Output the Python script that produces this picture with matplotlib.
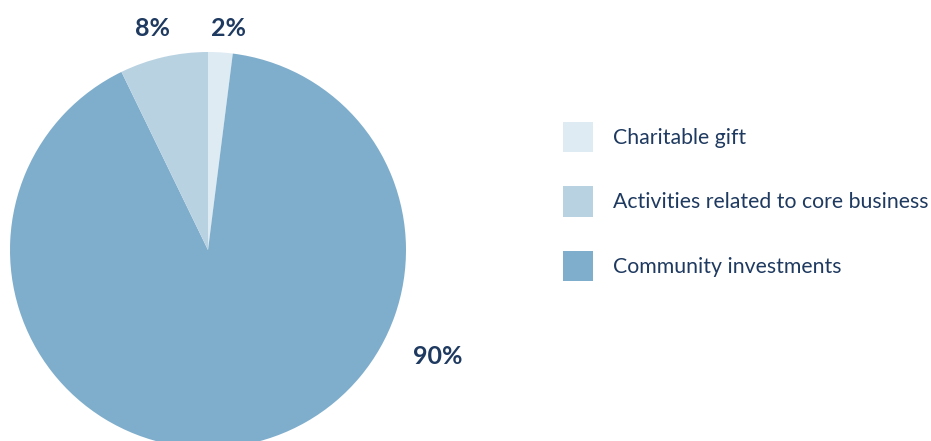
import matplotlib
matplotlib.use("Agg")
import matplotlib.pyplot as plt

categories = ["Charitable gift", "Activities related to core business", "Community investments"]
values = [2.0, 7.2, 90.8]
colors = ["#deebf3", "#b9d2e2", "#7faecc"]
labels = ["2%", "8%", "90%"]
text_color = "#1f3a60"

plt.rcParams['font.family'] = ['Lato', 'DejaVu Sans']

fig = plt.figure(figsize=(9.31, 4.41), dpi=100)
ax = fig.add_axes([0, 0, 1, 1])

# drawing order clockwise from top: Charitable, Community, Activities
order = [0, 2, 1]
wedges, _ = ax.pie([values[i] for i in order], colors=[colors[i] for i in order],
                   startangle=90, counterclock=False, center=(208, 191), radius=198,
                   frame=True, wedgeprops=dict(linewidth=0))
ax.set_xlim(0, 931)
ax.set_ylim(0, 441)
ax.set_aspect('equal')
ax.axis('off')

# percentage labels
label_pos = {0: (228, 413), 1: (152, 413), 2: (438, 84)}
for i in range(3):
    x, y = label_pos[i]
    ax.text(x, y, labels[i], ha='center', va='center', fontsize=18, fontweight='bold',
            color=text_color)

handles = [wedges[order.index(i)] for i in range(3)]
leg = ax.legend(handles, categories, loc='upper left', bbox_to_anchor=(563, 441 - 122),
                bbox_transform=ax.transData, frameon=False, fontsize=15.3,
                handlelength=1.41, handleheight=1.8, labelspacing=1.62,
                handletextpad=0.94, borderpad=0, borderaxespad=0)
for t in leg.get_texts():
    t.set_color(text_color)

fig.savefig("out.png", dpi=100)
